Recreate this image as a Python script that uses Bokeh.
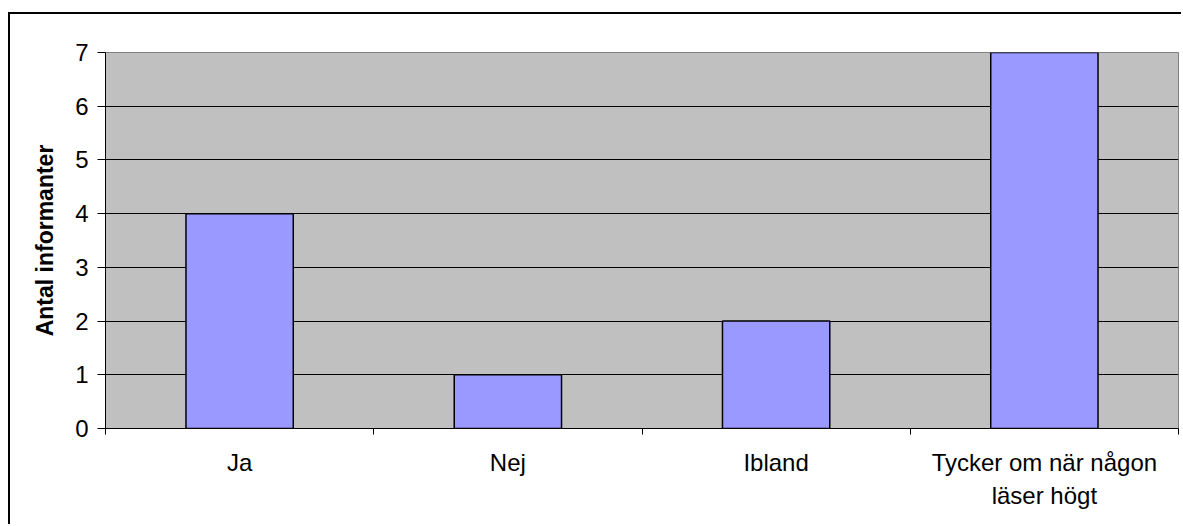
from bokeh.plotting import figure
from bokeh.models import Range1d, LinearAxis, FixedTicker, Grid, ColumnDataSource
from bokeh.embed import file_html
from bokeh.resources import INLINE

categories = ["Ja", "Nej", "Ibland", "Tycker om när någon läser högt"]
category_labels = ["Ja", "Nej", "Ibland", "Tycker om när någon\nläser högt"]
counts = [4, 1, 2, 7]
y_ticks = [0, 1, 2, 3, 4, 5, 6, 7]
y_title = "Antal informanter"

FONT = "Liberation Sans"
FS = "24px"

n = len(categories)
centers = [i + 0.5 for i in range(n)]
bounds = list(range(n + 1))

p = figure(width=1173, height=512, x_range=Range1d(0, n), y_range=Range1d(0, 7),
           output_backend="svg", toolbar_location=None, x_axis_type=None, y_axis_type=None,
           min_border_left=95, min_border_right=5, min_border_top=38, min_border_bottom=98,
           background_fill_color="#C0C0C0", border_fill_color="white")
p.outline_line_color = "#808080"
p.outline_line_width = 1
p.styles = {"margin-left": "8px", "margin-top": "12px",
            "border-left": "2px solid black", "border-top": "2px solid black"}

# y axis
ya = LinearAxis(ticker=FixedTicker(ticks=y_ticks), axis_label=y_title)
ya.major_tick_in = 0
ya.major_tick_out = 8
ya.minor_tick_line_color = None
ya.axis_line_color = "black"
ya.major_tick_line_color = "black"
ya.major_label_text_font = FONT
ya.major_label_text_font_size = FS
ya.major_label_text_color = "black"
ya.major_label_standoff = 9
ya.axis_label_text_font = FONT
ya.axis_label_text_font_size = "23px"
ya.axis_label_text_font_style = "bold"
ya.axis_label_text_color = "black"
ya.axis_label_standoff = 14
p.add_layout(ya, "left")

# x axis: labels at centres, ticks at category boundaries
xa = LinearAxis(ticker=FixedTicker(ticks=centers, minor_ticks=bounds))
xa.major_tick_line_color = None
xa.minor_tick_in = 0
xa.minor_tick_out = 6
xa.minor_tick_line_color = "black"
xa.axis_line_color = "black"
xa.major_label_overrides = {c: lab for c, lab in zip(centers, category_labels)}
xa.major_label_text_font = FONT
xa.major_label_text_font_size = FS
xa.major_label_text_color = "black"
xa.major_label_text_line_height = 1.25
xa.major_label_standoff = 14
p.add_layout(xa, "below")

g = Grid(dimension=1, ticker=FixedTicker(ticks=y_ticks), grid_line_color="black", grid_line_width=1)
p.add_layout(g)

src = ColumnDataSource(dict(x=centers, top=counts, cat=categories))
p.vbar(x="x", top="top", width=0.4, bottom=0, source=src,
       fill_color="#9999FF", line_color="black", line_width=1.5)

open("out.html", "w").write(file_html(p, INLINE))
